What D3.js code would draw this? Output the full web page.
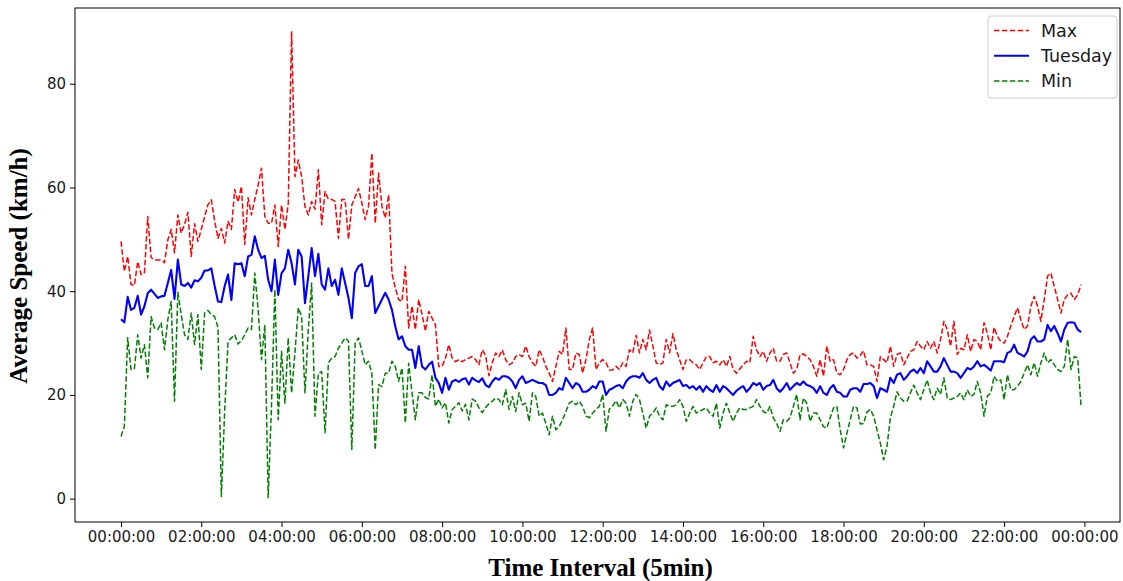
<!DOCTYPE html>
<html>
<head>
<meta charset="utf-8">
<script src="https://cdn.jsdelivr.net/npm/d3@7"></script>
<style>
  html, body { margin: 0; padding: 0; background: #fff; }
  svg { display: block; }
</style>
</head>
<body>
<svg id="chart" width="1123" height="581"></svg>
<script>
// Tick labels along the day (every 2 hours, 24 five-minute slots apart)
const tickLabels = ["00:00:00", "02:00:00", "04:00:00", "06:00:00", "08:00:00", "10:00:00",
  "12:00:00", "14:00:00", "16:00:00", "18:00:00", "20:00:00", "22:00:00", "00:00:00"];
const slotsPerTick = 24;

const seriesNames = ["Max", "Tuesday", "Min"];

// Maximum speed per 5-minute slot (km/h)
const maxSpeed = [
  49.6, 43.8, 46.7, 41.3, 41.1, 45.7, 43.2, 43.5, 54.4, 46.5,
  46.0, 46.0, 46.0, 45.5, 49.9, 51.9, 47.4, 54.7, 51.2, 52.9,
  55.2, 46.7, 53.0, 49.6, 51.9, 54.4, 56.7, 57.6, 53.5, 50.2,
  52.1, 49.3, 53.5, 51.9, 59.6, 57.2, 60.2, 49.0, 58.0, 54.7,
  57.7, 60.5, 63.7, 54.4, 53.1, 53.1, 56.6, 48.6, 56.6, 51.9,
  56.9, 90.1, 62.1, 65.3, 62.1, 56.3, 54.7, 57.3, 55.8, 63.4,
  52.8, 59.2, 57.7, 57.7, 57.3, 50.2, 57.7, 57.7, 50.0, 56.6,
  58.2, 59.8, 57.0, 53.8, 56.4, 66.6, 53.1, 62.8, 56.4, 54.1,
  58.6, 43.5, 40.6, 38.4, 38.0, 44.8, 32.9, 37.1, 32.6, 38.4,
  35.5, 32.3, 36.1, 34.8, 33.5, 25.5, 25.5, 27.1, 29.7, 27.1,
  26.4, 26.8, 26.4, 26.8, 27.1, 27.4, 26.8, 25.8, 28.7, 27.6,
  23.7, 26.2, 28.1, 27.4, 28.7, 26.8, 25.8, 26.2, 27.4, 27.8,
  27.4, 29.4, 27.4, 26.2, 25.5, 28.7, 27.4, 25.5, 24.2, 22.6,
  25.5, 28.4, 27.8, 32.9, 24.9, 24.9, 28.1, 27.8, 24.2, 26.8,
  30.7, 32.9, 24.9, 26.2, 26.8, 26.2, 24.8, 24.8, 25.5, 24.9,
  26.2, 25.5, 28.7, 28.1, 31.5, 28.1, 30.7, 28.7, 32.5, 29.4,
  26.2, 25.8, 26.2, 30.7, 28.1, 31.8, 28.7, 26.8, 24.9, 26.8,
  26.8, 26.2, 25.8, 24.9, 26.2, 27.4, 27.4, 26.2, 26.5, 25.8,
  26.8, 25.5, 27.4, 24.9, 24.2, 25.0, 25.8, 26.5, 26.2, 31.3,
  28.7, 27.4, 28.4, 26.5, 28.1, 29.0, 26.5, 26.5, 27.8, 28.1,
  26.2, 24.2, 24.9, 27.8, 27.9, 27.4, 26.8, 25.5, 23.6, 26.8,
  23.6, 29.4, 26.5, 26.8, 24.2, 23.9, 24.9, 26.8, 27.8, 28.1,
  27.1, 27.6, 28.5, 25.8, 25.8, 25.5, 22.6, 27.4, 26.8, 26.2,
  29.4, 25.5, 27.8, 28.1, 25.8, 27.1, 28.4, 28.7, 30.3, 29.4,
  28.7, 30.3, 29.0, 30.3, 28.1, 30.7, 34.2, 32.6, 29.4, 34.2,
  27.8, 29.0, 28.7, 31.6, 28.4, 30.7, 30.3, 28.7, 33.9, 31.9,
  28.7, 33.0, 31.3, 30.3, 30.0, 31.3, 33.3, 35.1, 36.8, 34.5,
  32.6, 33.3, 37.1, 39.0, 37.1, 34.2, 38.4, 42.9, 43.5, 40.9,
  38.4, 35.8, 38.4, 39.3, 39.6, 38.4, 39.3, 41.3
];

// Tuesday average speed per 5-minute slot (km/h)
const tuesdaySpeed = [
  34.6, 34.0, 38.9, 36.4, 36.8, 39.1, 35.5, 37.1, 39.6, 40.3,
  39.5, 38.7, 39.0, 39.1, 41.6, 44.1, 38.5, 46.1, 41.3, 41.0,
  41.6, 40.7, 42.1, 41.9, 42.6, 44.0, 44.0, 44.4, 41.0, 38.0,
  37.9, 41.0, 43.2, 38.3, 45.4, 45.2, 45.4, 42.9, 46.7, 47.0,
  50.6, 48.0, 46.4, 46.8, 42.2, 40.0, 46.1, 39.3, 43.5, 44.4,
  48.0, 45.4, 41.3, 48.0, 46.7, 37.7, 42.9, 48.3, 42.9, 47.2,
  41.3, 40.3, 44.4, 41.0, 42.2, 39.3, 44.4, 41.6, 38.7, 34.8,
  43.5, 44.8, 45.2, 41.0, 41.0, 42.9, 35.8, 37.1, 38.4, 39.7,
  38.4, 36.4, 33.2, 30.7, 31.3, 29.4, 28.7, 28.7, 25.2, 29.4,
  25.5, 24.9, 25.8, 26.4, 23.3, 22.3, 20.4, 23.3, 21.0, 22.6,
  22.9, 22.5, 23.0, 23.2, 22.0, 23.3, 22.8, 22.5, 23.2, 21.9,
  21.5, 22.6, 23.3, 22.9, 23.6, 23.6, 23.3, 22.6, 21.3, 22.9,
  23.6, 22.3, 22.6, 22.9, 22.6, 22.3, 22.3, 21.9, 20.0, 20.0,
  20.4, 21.3, 21.0, 23.3, 22.3, 21.3, 22.3, 21.9, 20.6, 20.6,
  21.0, 21.7, 21.3, 22.6, 22.6, 20.0, 21.0, 21.3, 21.7, 21.9,
  21.3, 22.6, 23.3, 23.6, 23.6, 23.3, 24.2, 22.9, 22.3, 22.9,
  23.3, 21.7, 21.0, 22.6, 21.7, 22.3, 22.6, 22.9, 21.7, 21.9,
  21.3, 21.7, 21.0, 21.7, 20.6, 21.7, 21.0, 20.6, 21.9, 20.6,
  21.7, 21.3, 20.6, 20.0, 20.8, 21.3, 21.7, 20.6, 21.3, 22.3,
  21.9, 22.3, 21.0, 21.7, 21.9, 22.9, 21.3, 20.6, 21.3, 22.3,
  21.0, 21.7, 22.3, 21.9, 22.6, 21.9, 21.7, 21.3, 20.4, 21.7,
  20.4, 20.0, 21.3, 21.9, 20.6, 20.4, 19.7, 19.7, 21.0, 21.3,
  21.3, 20.6, 22.1, 22.1, 22.3, 21.7, 19.4, 21.3, 21.0, 20.6,
  23.3, 22.3, 23.9, 24.2, 22.9, 23.6, 24.5, 24.9, 24.2, 25.2,
  24.2, 26.5, 25.5, 24.5, 24.5, 25.5, 27.1, 25.8, 24.5, 24.5,
  24.2, 23.3, 24.2, 25.2, 24.9, 25.5, 26.5, 25.5, 25.8, 25.3,
  24.7, 26.5, 26.5, 26.5, 26.3, 28.1, 28.4, 29.7, 28.1, 27.8,
  27.4, 28.4, 30.7, 31.3, 30.3, 30.3, 30.7, 33.5, 32.3, 33.3,
  31.9, 30.3, 32.6, 33.9, 34.0, 33.9, 32.6, 32.1
];

// Minimum speed per 5-minute slot (km/h)
const minSpeed = [
  12.0, 13.9, 31.0, 24.9, 25.0, 31.6, 27.1, 29.7, 23.3, 35.1,
  32.9, 32.6, 33.9, 28.7, 34.5, 38.0, 18.8, 39.8, 35.5, 31.6,
  30.7, 35.8, 29.7, 35.5, 24.9, 35.8, 36.3, 35.5, 35.1, 33.0,
  0.4, 17.0, 30.3, 31.0, 31.6, 29.8, 30.5, 31.6, 32.9, 32.6,
  43.5, 36.4, 26.8, 33.5, 0.2, 18.0, 40.3, 15.2, 28.4, 18.4,
  31.0, 20.4, 28.1, 36.8, 35.1, 20.4, 32.6, 41.6, 15.9, 24.2,
  24.5, 12.7, 26.2, 27.1, 27.4, 29.0, 30.0, 31.0, 30.4, 9.5,
  30.0, 31.0, 28.5, 25.8, 26.5, 24.2, 9.4, 22.0, 21.6, 24.2,
  24.2, 26.5, 25.5, 22.6, 25.2, 14.6, 26.1, 20.4, 15.2, 20.4,
  20.4, 19.5, 19.2, 23.9, 17.8, 19.2, 17.5, 18.5, 14.6, 17.2,
  17.8, 18.5, 16.9, 18.2, 15.2, 19.2, 18.8, 17.5, 16.6, 17.6,
  18.3, 18.8, 19.4, 19.1, 18.1, 21.0, 17.2, 19.7, 16.8, 20.4,
  18.1, 18.4, 14.9, 20.4, 19.7, 15.9, 16.5, 14.5, 12.3, 15.9,
  13.3, 13.9, 15.2, 16.8, 18.4, 18.8, 18.1, 18.8, 17.8, 15.9,
  15.6, 16.5, 17.2, 17.8, 20.1, 13.0, 17.3, 17.9, 18.9, 17.5,
  19.1, 18.4, 15.9, 18.8, 20.1, 19.1, 16.5, 13.6, 15.9, 16.5,
  17.5, 15.9, 15.2, 18.1, 17.8, 17.8, 18.1, 19.1, 17.8, 14.9,
  16.5, 17.8, 16.5, 16.8, 17.2, 17.5, 16.5, 15.9, 18.4, 13.6,
  16.5, 18.4, 16.5, 14.9, 16.5, 17.5, 17.2, 17.2, 17.5, 17.8,
  19.1, 17.8, 16.8, 16.5, 17.8, 15.6, 14.5, 13.0, 15.2, 14.9,
  15.6, 17.8, 20.1, 15.2, 19.4, 18.4, 14.9, 16.5, 16.5, 15.2,
  13.9, 13.6, 15.6, 17.5, 17.8, 13.3, 9.8, 12.6, 15.2, 17.8,
  17.5, 14.4, 14.5, 16.7, 17.2, 15.9, 13.3, 10.7, 7.5, 10.1,
  15.6, 17.8, 20.6, 19.4, 18.8, 18.8, 20.4, 21.9, 20.4, 19.1,
  21.0, 22.9, 20.4, 19.1, 21.3, 20.1, 23.3, 19.4, 19.1, 19.4,
  19.7, 20.4, 19.1, 21.0, 19.7, 20.1, 22.6, 20.4, 15.9, 19.8,
  20.3, 23.6, 22.6, 22.9, 19.1, 23.9, 21.0, 21.0, 21.7, 22.6,
  24.2, 25.8, 23.9, 26.2, 23.6, 26.2, 28.1, 26.2, 26.8, 25.8,
  24.9, 24.5, 25.5, 30.7, 24.9, 27.4, 27.1, 17.8
];

const yTicks = [0, 20, 40, 60, 80];

// ---- layout ----
const plot = { left: 75, right: 1120, top: 8, bottom: 522 };

const svg = d3.select("#chart");

const x = d3.scaleLinear()
  .domain([-13.75, 298.65])
  .range([plot.left, plot.right]);

const y = d3.scaleLinear()
  .domain([-4.5, 94.6])
  .range([plot.bottom, plot.top]);

const tickFont = "'DejaVu Sans', sans-serif";
const titleFont = "'Liberation Serif', 'Times New Roman', serif";

// ---- axes ----
const xAxis = d3.axisBottom(x)
  .tickValues(tickLabels.map((_, i) => i * slotsPerTick))
  .tickFormat((d, i) => tickLabels[i])
  .tickSizeOuter(0)
  .tickSize(5)
  .tickPadding(4);

const yAxis = d3.axisLeft(y)
  .tickValues(yTicks)
  .tickFormat(d3.format("d"))
  .tickSizeOuter(0)
  .tickSize(5)
  .tickPadding(4);

const gx = svg.append("g")
  .attr("transform", `translate(0,${plot.bottom})`)
  .call(xAxis);
const gy = svg.append("g")
  .attr("transform", `translate(${plot.left},0)`)
  .call(yAxis);

[gx, gy].forEach(g => {
  g.select(".domain").remove();
  g.selectAll(".tick line").attr("stroke", "#000").attr("stroke-width", 1);
  g.selectAll(".tick text")
    .attr("fill", "#1a1a1a")
    .style("font-family", tickFont)
    .style("font-size", "15px");
});

// ---- series ----
const series = [
  { name: seriesNames[0], values: maxSpeed, color: "#ff0000", width: 1.5, dash: "5.5,2.4" },
  { name: seriesNames[1], values: tuesdaySpeed, color: "#0000ff", width: 2.1, dash: null },
  { name: seriesNames[2], values: minSpeed, color: "#008000", width: 1.5, dash: "5.5,2.4" }
];

const line = d3.line()
  .x((d, i) => x(i))
  .y(d => y(d));

const clipId = "plot-clip";
svg.append("clipPath").attr("id", clipId)
  .append("rect")
  .attr("x", plot.left).attr("y", plot.top)
  .attr("width", plot.right - plot.left)
  .attr("height", plot.bottom - plot.top);

const gLines = svg.append("g").attr("clip-path", `url(#${clipId})`);
series.forEach(s => {
  gLines.append("path")
    .datum(s.values)
    .attr("fill", "none")
    .attr("stroke", s.color)
    .attr("stroke-width", s.width)
    .attr("stroke-linejoin", "round")
    .attr("stroke-dasharray", s.dash)
    .attr("d", line);
});

// ---- frame ----
svg.append("rect")
  .attr("x", plot.left).attr("y", plot.top)
  .attr("width", plot.right - plot.left)
  .attr("height", plot.bottom - plot.top)
  .attr("fill", "none")
  .attr("stroke", "#000")
  .attr("stroke-width", 1);

// ---- axis titles ----
svg.append("text")
  .attr("x", (plot.left + plot.right) / 2 + 3)
  .attr("y", 576)
  .attr("text-anchor", "middle")
  .style("font-family", titleFont)
  .style("font-weight", "bold")
  .style("font-size", "25px")
  .attr("fill", "#000")
  .text("Time Interval (5min)");

svg.append("text")
  .attr("transform", `translate(27,${(plot.top + plot.bottom) / 2 + 1}) rotate(-90)`)
  .attr("text-anchor", "middle")
  .style("font-family", titleFont)
  .style("font-weight", "bold")
  .style("font-size", "25px")
  .attr("fill", "#000")
  .text("Average Speed (km/h)");

// ---- legend ----
const legend = svg.append("g").attr("transform", "translate(988,16)");
legend.append("rect")
  .attr("x", 0).attr("y", 0)
  .attr("width", 129).attr("height", 82)
  .attr("rx", 3).attr("ry", 3)
  .attr("fill", "#fff").attr("fill-opacity", 0.8)
  .attr("stroke", "#cccccc").attr("stroke-width", 1);

series.forEach((s, i) => {
  const cy = 14.5 + i * 25.3;
  legend.append("line")
    .attr("x1", 6).attr("x2", 41)
    .attr("y1", cy).attr("y2", cy)
    .attr("stroke", s.color)
    .attr("stroke-width", s.width)
    .attr("stroke-dasharray", s.dash);
  legend.append("text")
    .attr("x", 53).attr("y", cy)
    .attr("dy", "0.35em")
    .style("font-family", tickFont)
    .style("font-size", "17.5px")
    .attr("fill", "#1a1a1a")
    .text(s.name);
});
</script>
</body>
</html>
